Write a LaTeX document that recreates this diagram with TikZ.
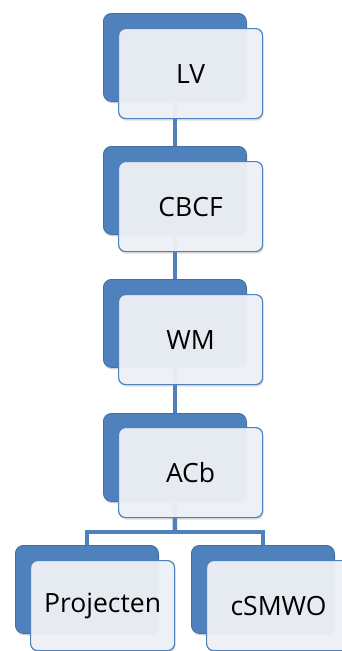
\documentclass[tikz,border=0pt]{standalone}
\usepackage{fontspec}
\setmainfont{Open Sans}
\definecolor{boxblue}{RGB}{79, 129, 189}
\definecolor{cardfill}{RGB}{238, 241, 246}
\usetikzlibrary{shadows,positioning,calc}

\begin{document}
\begin{tikzpicture}[x=1pt, y=-1pt,
    backbox/.style={anchor=north west, minimum width=143pt, minimum height=88pt, inner sep=0pt,
        rounded corners=8pt, draw=boxblue!85!black, line width=0.8pt, fill=boxblue,
        drop shadow={shadow xshift=1pt, shadow yshift=-2pt, opacity=0.35}},
    frontbox/.style={anchor=north west, minimum width=144pt, minimum height=90pt, inner sep=0pt,
        rounded corners=7pt, draw=boxblue, line width=1.2pt, fill=cardfill, fill opacity=0.95,
        text opacity=1, font=\fontsize{26.5}{32}\selectfont,
        drop shadow={shadow xshift=1pt, shadow yshift=-2pt, opacity=0.25}},
    link/.style={draw=boxblue, line width=4.5pt}]
    \useasboundingbox (0,0) rectangle (342,651);

    % back boxes of the main column
    \foreach \i/\top in {1/13, 2/146, 3/279, 4/413} {
        \node[backbox] (back\i) at (103,\top) {};
    }
    \node[backbox] (backProj) at (15,545) {};
    \node[backbox] (backSmwo) at (191,545) {};

    % connectors
    \foreach \i/\j in {1/2, 2/3, 3/4} {
        \draw[link] (back\i) -- (back\j);
    }
    \coordinate (fork) at (175,532);
    \draw[link] (back4) -- (fork);
    \draw[link] (backProj) |- (fork) -| (backSmwo);

    % front boxes with the labels
    \foreach \i/\top/\label in {1/28/LV, 2/161/CBCF, 3/294/WM, 4/427/ACb} {
        \node[frontbox] (front\i) at (118,\top) {\label};
    }
    \node[frontbox] (frontProj) at (30,560) {Projecten};
    \node[frontbox] (frontSmwo) at (206,560) {cSMWO};
\end{tikzpicture}
\end{document}
